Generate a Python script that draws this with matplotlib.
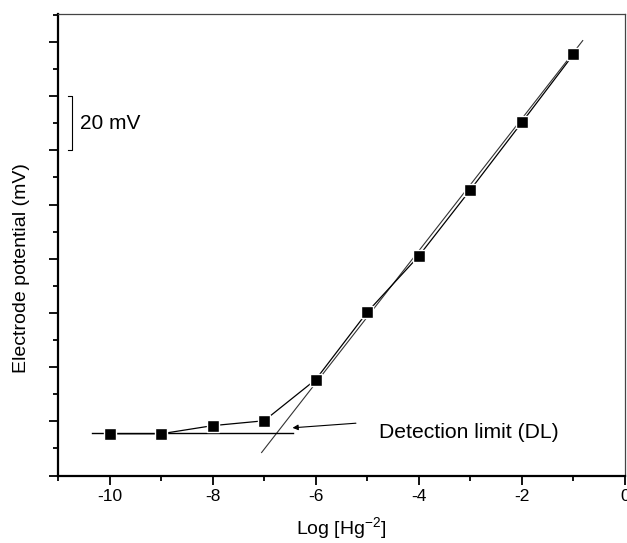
import matplotlib
matplotlib.use("Agg")
import matplotlib.pyplot as plt
import numpy as np

plt.rcParams['font.family'] = ['Liberation Sans', 'DejaVu Sans']
plt.rcParams['mathtext.fontset'] = 'custom'
plt.rcParams['mathtext.rm'] = 'Liberation Sans'
plt.rcParams['mathtext.it'] = 'Liberation Sans'

# measured points
log_hg = [-10, -9, -8, -7, -6, -5, -4, -3, -2, -1]
potential = [15.4, 15.4, 18.4, 20.2, 35.4, 60.3, 81.0, 105.4, 130.3, 155.4]

# linear fit of the Nernstian part
fit_slope = 24.4
fit_intercept = 180.5
fit_range = [-7.05, -0.82]

# detection limit baseline
dl_level = 15.8
dl_range = [-10.35, -6.45]

# scale bar
bar_x = -10.72
bar_range = [120, 140]

fig = plt.figure(figsize=(6.27, 5.43), dpi=100)
ax = fig.add_axes([0.0925, 0.1243, 0.9043, 0.8499])

fx = np.array(fit_range)
ax.plot(fx, fit_intercept + fit_slope * fx, color="#333333", lw=0.8, zorder=2)
ax.plot(dl_range, [dl_level, dl_level], color="black", lw=1.0, zorder=2)
ax.plot(log_hg, potential, color="black", lw=0.9, marker="s", ms=8,
        mfc="black", mec="white", mew=1.0, zorder=3)

ax.annotate("", xy=(-6.45, 17.6), xytext=(-5.22, 19.3),
            arrowprops=dict(arrowstyle="-|>", color="black", lw=0.8,
                            mutation_scale=8, shrinkA=0, shrinkB=0))
ax.text(-4.78, 15.7, "Detection limit (DL)", fontsize=15.2, va="center", ha="left")

ax.plot([bar_x - 0.08, bar_x, bar_x, bar_x - 0.08],
        [bar_range[0], bar_range[0], bar_range[1], bar_range[1]],
        color="black", lw=0.8, clip_on=False)
ax.text(-10.57, 130, "20 mV", fontsize=15, va="center", ha="left")

ax.set_xlim(-11, 0)
ax.set_ylim(0, 170.3)
ax.set_xticks(np.arange(-10, 1, 2))
ax.set_xticks(np.arange(-11, 1, 1), minor=True)
ax.set_xticklabels([str(v) for v in range(-10, 1, 2)])
ax.set_yticks(np.arange(0, 171, 20))
ax.set_yticks(np.arange(10, 171, 20), minor=True)
ax.set_yticklabels([])

ax.tick_params(axis="both", which="major", direction="out", length=6.5, width=1.3,
               labelsize=12.5, top=False, right=False)
ax.tick_params(axis="both", which="minor", direction="out", length=3.5, width=1.3,
               top=False, right=False)

ax.spines["left"].set_linewidth(1.6)
ax.spines["bottom"].set_linewidth(1.6)
ax.spines["top"].set_linewidth(0.9)
ax.spines["right"].set_linewidth(0.9)
ax.spines["top"].set_color("#444444")
ax.spines["right"].set_color("#444444")

ax.set_xlabel("Log [Hg$^{-2}$]", fontsize=14, labelpad=8)
ax.set_ylabel("Electrode potential (mV)", fontsize=14)
ax.yaxis.set_label_coords(-0.05, 0.45)

fig.savefig("out.png", dpi=100)
